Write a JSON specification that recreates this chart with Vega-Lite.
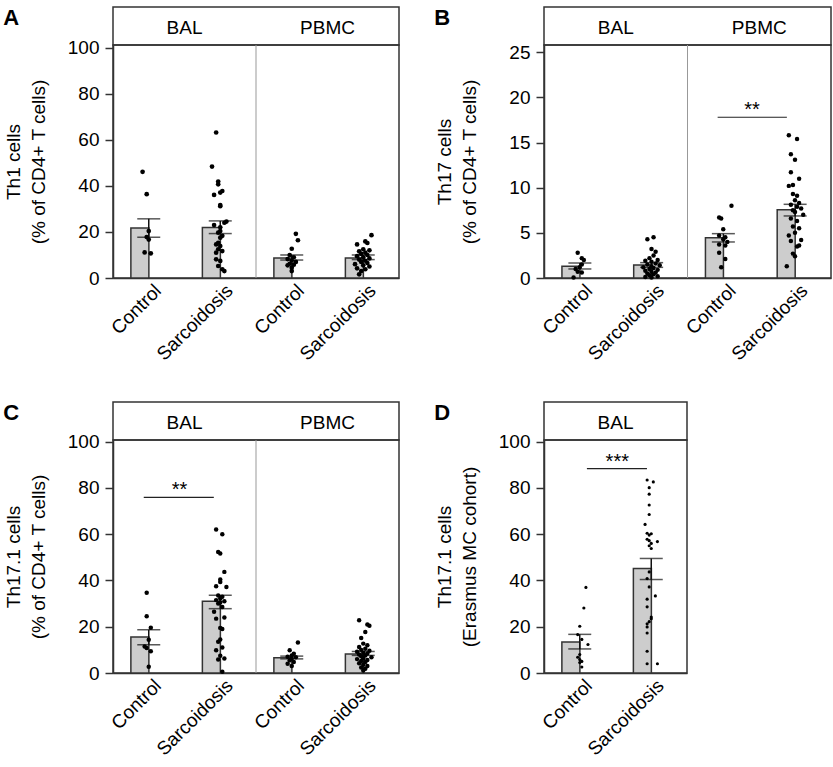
{
  "$schema": "https://vega.github.io/schema/vega-lite/v6.json",
  "padding": {"left": 3, "top": 6, "right": 0, "bottom": 0},
  "config": {
    "font": "Liberation Sans",
    "view": {"stroke": "#333", "strokeWidth": 1.5},
    "axis": {"domainColor": "#333", "domainWidth": 1.5, "tickColor": "#333", "tickWidth": 1.5, "labelFontSize": 19, "labelColor": "#000", "titleFontSize": 19, "titleFontWeight": "normal", "titleColor": "#000", "grid": false, "labelFont": "Liberation Sans", "titleFont": "Liberation Sans"},
    "axisX": {"ticks": false, "tickSize": 0, "labelAngle": -45, "labelAlign": "right", "labelBaseline": "top", "labelPadding": 3, "labelOffset": 3},
    "axisY": {"labelPadding": 6, "minExtent": 49, "maxExtent": 49, "titlePadding": 16, "titleLineHeight": 25},
    "title": {"font": "Liberation Sans", "fontSize": 22, "fontWeight": "bold", "anchor": "start", "frame": "bounds", "offset": -24, "color": "#000"}
  },
  "datasets": {
    "bars": [
      {"p": "A", "t": "BAL", "g": "Control", "m": 21.7, "lo": 17.7, "hi": 25.7},
      {"p": "A", "t": "BAL", "g": "Sarcoidosis", "m": 21.9, "lo": 19.3, "hi": 24.8},
      {"p": "A", "t": "PBMC", "g": "Control", "m": 8.7, "lo": 7.8, "hi": 10.0},
      {"p": "A", "t": "PBMC", "g": "Sarcoidosis", "m": 8.7, "lo": 8.0, "hi": 10.0},
      {"p": "B", "t": "BAL", "g": "Control", "m": 1.3, "lo": 1.0, "hi": 1.66},
      {"p": "B", "t": "BAL", "g": "Sarcoidosis", "m": 1.45, "lo": 1.18, "hi": 1.7},
      {"p": "B", "t": "PBMC", "g": "Control", "m": 4.45, "lo": 3.99, "hi": 4.91},
      {"p": "B", "t": "PBMC", "g": "Sarcoidosis", "m": 7.55, "lo": 6.87, "hi": 8.16},
      {"p": "C", "t": "BAL", "g": "Control", "m": 15.6, "lo": 12.2, "hi": 18.7},
      {"p": "C", "t": "BAL", "g": "Sarcoidosis", "m": 31.0, "lo": 27.8, "hi": 33.6},
      {"p": "C", "t": "PBMC", "g": "Control", "m": 6.6, "lo": 6.1, "hi": 7.3},
      {"p": "C", "t": "PBMC", "g": "Sarcoidosis", "m": 8.2, "lo": 7.6, "hi": 9.3},
      {"p": "D", "t": "BAL", "g": "Control", "m": 13.4, "lo": 10.4, "hi": 16.7},
      {"p": "D", "t": "BAL", "g": "Sarcoidosis", "m": 45.2, "lo": 40.4, "hi": 49.5}
    ],
    "pts": [
      {"p":"A","t":"BAL","g":"Control","v":46.1,"l":2},{"p":"A","t":"BAL","g":"Control","v":36.4,"l":4},{"p":"A","t":"BAL","g":"Control","v":20.4,"l":5},{"p":"A","t":"BAL","g":"Control","v":17.8,"l":4},{"p":"A","t":"BAL","g":"Control","v":16.7,"l":5},{"p":"A","t":"BAL","g":"Control","v":11.1,"l":3},{"p":"A","t":"BAL","g":"Control","v":10.7,"l":6},
      {"p":"A","t":"BAL","g":"Sarcoidosis","v":63.2,"l":3},{"p":"A","t":"BAL","g":"Sarcoidosis","v":48.4,"l":1},{"p":"A","t":"BAL","g":"Sarcoidosis","v":41.9,"l":4},{"p":"A","t":"BAL","g":"Sarcoidosis","v":40.7,"l":4},{"p":"A","t":"BAL","g":"Sarcoidosis","v":37.8,"l":6},{"p":"A","t":"BAL","g":"Sarcoidosis","v":37.1,"l":5},{"p":"A","t":"BAL","g":"Sarcoidosis","v":36.1,"l":2},{"p":"A","t":"BAL","g":"Sarcoidosis","v":31.7,"l":5},{"p":"A","t":"BAL","g":"Sarcoidosis","v":31.2,"l":5},{"p":"A","t":"BAL","g":"Sarcoidosis","v":24.5,"l":8},{"p":"A","t":"BAL","g":"Sarcoidosis","v":24.0,"l":7},{"p":"A","t":"BAL","g":"Sarcoidosis","v":23.0,"l":2},{"p":"A","t":"BAL","g":"Sarcoidosis","v":22.0,"l":5},{"p":"A","t":"BAL","g":"Sarcoidosis","v":20.4,"l":5},{"p":"A","t":"BAL","g":"Sarcoidosis","v":19.7,"l":4},{"p":"A","t":"BAL","g":"Sarcoidosis","v":18.3,"l":6},{"p":"A","t":"BAL","g":"Sarcoidosis","v":17.5,"l":5},{"p":"A","t":"BAL","g":"Sarcoidosis","v":15.3,"l":4},{"p":"A","t":"BAL","g":"Sarcoidosis","v":14.6,"l":3},{"p":"A","t":"BAL","g":"Sarcoidosis","v":13.9,"l":5},{"p":"A","t":"BAL","g":"Sarcoidosis","v":12.5,"l":4},{"p":"A","t":"BAL","g":"Sarcoidosis","v":11.7,"l":6},{"p":"A","t":"BAL","g":"Sarcoidosis","v":11.0,"l":3},{"p":"A","t":"BAL","g":"Sarcoidosis","v":8.1,"l":3},{"p":"A","t":"BAL","g":"Sarcoidosis","v":7.4,"l":5},{"p":"A","t":"BAL","g":"Sarcoidosis","v":5.2,"l":4},{"p":"A","t":"BAL","g":"Sarcoidosis","v":3.8,"l":6},{"p":"A","t":"BAL","g":"Sarcoidosis","v":3.0,"l":7},
      {"p":"A","t":"PBMC","g":"Control","v":19.2,"l":7},{"p":"A","t":"PBMC","g":"Control","v":16.4,"l":8},{"p":"A","t":"PBMC","g":"Control","v":12.7,"l":5},{"p":"A","t":"PBMC","g":"Control","v":10.0,"l":4},{"p":"A","t":"PBMC","g":"Control","v":9.0,"l":6},{"p":"A","t":"PBMC","g":"Control","v":8.2,"l":3},{"p":"A","t":"PBMC","g":"Control","v":7.6,"l":5},{"p":"A","t":"PBMC","g":"Control","v":7.0,"l":7},{"p":"A","t":"PBMC","g":"Control","v":6.2,"l":4},{"p":"A","t":"PBMC","g":"Control","v":5.8,"l":6},{"p":"A","t":"PBMC","g":"Control","v":5.5,"l":3},{"p":"A","t":"PBMC","g":"Control","v":4.5,"l":5},{"p":"A","t":"PBMC","g":"Control","v":3.0,"l":5},
      {"p":"A","t":"PBMC","g":"Sarcoidosis","v":18.6,"l":9},{"p":"A","t":"PBMC","g":"Sarcoidosis","v":15.9,"l":6},{"p":"A","t":"PBMC","g":"Sarcoidosis","v":15.2,"l":7},{"p":"A","t":"PBMC","g":"Sarcoidosis","v":14.6,"l":2},{"p":"A","t":"PBMC","g":"Sarcoidosis","v":12.5,"l":5},{"p":"A","t":"PBMC","g":"Sarcoidosis","v":12.0,"l":8},{"p":"A","t":"PBMC","g":"Sarcoidosis","v":11.6,"l":3},{"p":"A","t":"PBMC","g":"Sarcoidosis","v":11.0,"l":6},{"p":"A","t":"PBMC","g":"Sarcoidosis","v":10.5,"l":4},{"p":"A","t":"PBMC","g":"Sarcoidosis","v":10.0,"l":7},{"p":"A","t":"PBMC","g":"Sarcoidosis","v":9.5,"l":2},{"p":"A","t":"PBMC","g":"Sarcoidosis","v":9.0,"l":5},{"p":"A","t":"PBMC","g":"Sarcoidosis","v":8.5,"l":8},{"p":"A","t":"PBMC","g":"Sarcoidosis","v":8.0,"l":3},{"p":"A","t":"PBMC","g":"Sarcoidosis","v":7.5,"l":6},{"p":"A","t":"PBMC","g":"Sarcoidosis","v":7.0,"l":4},{"p":"A","t":"PBMC","g":"Sarcoidosis","v":6.5,"l":7},{"p":"A","t":"PBMC","g":"Sarcoidosis","v":6.0,"l":1},{"p":"A","t":"PBMC","g":"Sarcoidosis","v":5.5,"l":5},{"p":"A","t":"PBMC","g":"Sarcoidosis","v":5.0,"l":8},{"p":"A","t":"PBMC","g":"Sarcoidosis","v":4.2,"l":2},{"p":"A","t":"PBMC","g":"Sarcoidosis","v":3.8,"l":6},{"p":"A","t":"PBMC","g":"Sarcoidosis","v":3.0,"l":4},{"p":"A","t":"PBMC","g":"Sarcoidosis","v":1.6,"l":3},
      {"p":"B","t":"BAL","g":"Control","v":2.8,"l":4},{"p":"B","t":"BAL","g":"Control","v":2.2,"l":6},{"p":"B","t":"BAL","g":"Control","v":2.0,"l":7},{"p":"B","t":"BAL","g":"Control","v":1.5,"l":6},{"p":"B","t":"BAL","g":"Control","v":1.2,"l":5},{"p":"B","t":"BAL","g":"Control","v":1.0,"l":3},{"p":"B","t":"BAL","g":"Control","v":0.7,"l":4},{"p":"B","t":"BAL","g":"Control","v":0.6,"l":6},{"p":"B","t":"BAL","g":"Control","v":0.05,"l":2},
      {"p":"B","t":"BAL","g":"Sarcoidosis","v":4.5,"l":6},{"p":"B","t":"BAL","g":"Sarcoidosis","v":4.3,"l":3},{"p":"B","t":"BAL","g":"Sarcoidosis","v":3.2,"l":5},{"p":"B","t":"BAL","g":"Sarcoidosis","v":2.9,"l":7},{"p":"B","t":"BAL","g":"Sarcoidosis","v":2.5,"l":6},{"p":"B","t":"BAL","g":"Sarcoidosis","v":2.2,"l":4},{"p":"B","t":"BAL","g":"Sarcoidosis","v":2.0,"l":8},{"p":"B","t":"BAL","g":"Sarcoidosis","v":1.9,"l":2},{"p":"B","t":"BAL","g":"Sarcoidosis","v":1.8,"l":5},{"p":"B","t":"BAL","g":"Sarcoidosis","v":1.6,"l":7},{"p":"B","t":"BAL","g":"Sarcoidosis","v":1.5,"l":3},{"p":"B","t":"BAL","g":"Sarcoidosis","v":1.4,"l":9},{"p":"B","t":"BAL","g":"Sarcoidosis","v":1.3,"l":5},{"p":"B","t":"BAL","g":"Sarcoidosis","v":1.2,"l":1},{"p":"B","t":"BAL","g":"Sarcoidosis","v":1.1,"l":6},{"p":"B","t":"BAL","g":"Sarcoidosis","v":1.0,"l":4},{"p":"B","t":"BAL","g":"Sarcoidosis","v":0.9,"l":8},{"p":"B","t":"BAL","g":"Sarcoidosis","v":0.8,"l":2},{"p":"B","t":"BAL","g":"Sarcoidosis","v":0.7,"l":5},{"p":"B","t":"BAL","g":"Sarcoidosis","v":0.6,"l":7},{"p":"B","t":"BAL","g":"Sarcoidosis","v":0.5,"l":3},{"p":"B","t":"BAL","g":"Sarcoidosis","v":0.4,"l":6},{"p":"B","t":"BAL","g":"Sarcoidosis","v":0.3,"l":4},{"p":"B","t":"BAL","g":"Sarcoidosis","v":0.2,"l":8},{"p":"B","t":"BAL","g":"Sarcoidosis","v":0.1,"l":2},{"p":"B","t":"BAL","g":"Sarcoidosis","v":0.05,"l":5},
      {"p":"B","t":"PBMC","g":"Control","v":8.0,"l":9},{"p":"B","t":"PBMC","g":"Control","v":6.7,"l":3},{"p":"B","t":"PBMC","g":"Control","v":6.6,"l":4},{"p":"B","t":"PBMC","g":"Control","v":5.4,"l":5},{"p":"B","t":"PBMC","g":"Control","v":4.7,"l":3},{"p":"B","t":"PBMC","g":"Control","v":4.5,"l":6},{"p":"B","t":"PBMC","g":"Control","v":4.3,"l":5},{"p":"B","t":"PBMC","g":"Control","v":4.0,"l":7},{"p":"B","t":"PBMC","g":"Control","v":3.7,"l":3},{"p":"B","t":"PBMC","g":"Control","v":3.6,"l":6},{"p":"B","t":"PBMC","g":"Control","v":2.8,"l":3},{"p":"B","t":"PBMC","g":"Control","v":2.1,"l":6},{"p":"B","t":"PBMC","g":"Control","v":1.2,"l":4},
      {"p":"B","t":"PBMC","g":"Sarcoidosis","v":15.8,"l":2},{"p":"B","t":"PBMC","g":"Sarcoidosis","v":15.4,"l":6},{"p":"B","t":"PBMC","g":"Sarcoidosis","v":13.7,"l":3},{"p":"B","t":"PBMC","g":"Sarcoidosis","v":13.1,"l":5},{"p":"B","t":"PBMC","g":"Sarcoidosis","v":11.7,"l":3},{"p":"B","t":"PBMC","g":"Sarcoidosis","v":11.0,"l":7},{"p":"B","t":"PBMC","g":"Sarcoidosis","v":10.3,"l":4},{"p":"B","t":"PBMC","g":"Sarcoidosis","v":10.2,"l":2},{"p":"B","t":"PBMC","g":"Sarcoidosis","v":9.3,"l":4},{"p":"B","t":"PBMC","g":"Sarcoidosis","v":9.1,"l":6},{"p":"B","t":"PBMC","g":"Sarcoidosis","v":8.6,"l":5},{"p":"B","t":"PBMC","g":"Sarcoidosis","v":8.3,"l":7},{"p":"B","t":"PBMC","g":"Sarcoidosis","v":8.1,"l":3},{"p":"B","t":"PBMC","g":"Sarcoidosis","v":7.9,"l":6},{"p":"B","t":"PBMC","g":"Sarcoidosis","v":7.7,"l":8},{"p":"B","t":"PBMC","g":"Sarcoidosis","v":7.5,"l":4},{"p":"B","t":"PBMC","g":"Sarcoidosis","v":7.3,"l":5},{"p":"B","t":"PBMC","g":"Sarcoidosis","v":7.0,"l":9},{"p":"B","t":"PBMC","g":"Sarcoidosis","v":6.6,"l":3},{"p":"B","t":"PBMC","g":"Sarcoidosis","v":6.3,"l":6},{"p":"B","t":"PBMC","g":"Sarcoidosis","v":5.7,"l":4},{"p":"B","t":"PBMC","g":"Sarcoidosis","v":5.5,"l":7},{"p":"B","t":"PBMC","g":"Sarcoidosis","v":5.0,"l":5},{"p":"B","t":"PBMC","g":"Sarcoidosis","v":4.7,"l":2},{"p":"B","t":"PBMC","g":"Sarcoidosis","v":4.2,"l":8},{"p":"B","t":"PBMC","g":"Sarcoidosis","v":4.1,"l":3},{"p":"B","t":"PBMC","g":"Sarcoidosis","v":3.6,"l":7},{"p":"B","t":"PBMC","g":"Sarcoidosis","v":3.5,"l":6},{"p":"B","t":"PBMC","g":"Sarcoidosis","v":2.7,"l":4},{"p":"B","t":"PBMC","g":"Sarcoidosis","v":2.4,"l":5},{"p":"B","t":"PBMC","g":"Sarcoidosis","v":1.3,"l":1},
      {"p":"C","t":"BAL","g":"Control","v":34.7,"l":4},{"p":"C","t":"BAL","g":"Control","v":24.5,"l":4},{"p":"C","t":"BAL","g":"Control","v":19.6,"l":6},{"p":"C","t":"BAL","g":"Control","v":14.4,"l":5},{"p":"C","t":"BAL","g":"Control","v":11.5,"l":3},{"p":"C","t":"BAL","g":"Control","v":10.8,"l":4},{"p":"C","t":"BAL","g":"Control","v":9.4,"l":6},{"p":"C","t":"BAL","g":"Control","v":2.7,"l":5},
      {"p":"C","t":"BAL","g":"Sarcoidosis","v":62.0,"l":3},{"p":"C","t":"BAL","g":"Sarcoidosis","v":60.0,"l":6},{"p":"C","t":"BAL","g":"Sarcoidosis","v":52.3,"l":4},{"p":"C","t":"BAL","g":"Sarcoidosis","v":51.6,"l":5},{"p":"C","t":"BAL","g":"Sarcoidosis","v":43.7,"l":7},{"p":"C","t":"BAL","g":"Sarcoidosis","v":40.4,"l":5},{"p":"C","t":"BAL","g":"Sarcoidosis","v":39.3,"l":5},{"p":"C","t":"BAL","g":"Sarcoidosis","v":37.5,"l":3},{"p":"C","t":"BAL","g":"Sarcoidosis","v":37.2,"l":8},{"p":"C","t":"BAL","g":"Sarcoidosis","v":33.5,"l":4},{"p":"C","t":"BAL","g":"Sarcoidosis","v":33.0,"l":6},{"p":"C","t":"BAL","g":"Sarcoidosis","v":32.2,"l":5},{"p":"C","t":"BAL","g":"Sarcoidosis","v":31.5,"l":3},{"p":"C","t":"BAL","g":"Sarcoidosis","v":31.0,"l":7},{"p":"C","t":"BAL","g":"Sarcoidosis","v":30.5,"l":5},{"p":"C","t":"BAL","g":"Sarcoidosis","v":30.0,"l":4},{"p":"C","t":"BAL","g":"Sarcoidosis","v":28.5,"l":6},{"p":"C","t":"BAL","g":"Sarcoidosis","v":26.5,"l":2},{"p":"C","t":"BAL","g":"Sarcoidosis","v":24.0,"l":7},{"p":"C","t":"BAL","g":"Sarcoidosis","v":23.5,"l":3},{"p":"C","t":"BAL","g":"Sarcoidosis","v":19.5,"l":5},{"p":"C","t":"BAL","g":"Sarcoidosis","v":19.0,"l":6},{"p":"C","t":"BAL","g":"Sarcoidosis","v":14.5,"l":5},{"p":"C","t":"BAL","g":"Sarcoidosis","v":13.5,"l":4},{"p":"C","t":"BAL","g":"Sarcoidosis","v":11.0,"l":6},{"p":"C","t":"BAL","g":"Sarcoidosis","v":9.8,"l":3},{"p":"C","t":"BAL","g":"Sarcoidosis","v":7.5,"l":5},{"p":"C","t":"BAL","g":"Sarcoidosis","v":6.3,"l":7},{"p":"C","t":"BAL","g":"Sarcoidosis","v":5.8,"l":4},{"p":"C","t":"BAL","g":"Sarcoidosis","v":0.5,"l":6},
      {"p":"C","t":"PBMC","g":"Control","v":13.2,"l":8},{"p":"C","t":"PBMC","g":"Control","v":9.8,"l":4},{"p":"C","t":"PBMC","g":"Control","v":8.3,"l":6},{"p":"C","t":"PBMC","g":"Control","v":7.6,"l":5},{"p":"C","t":"PBMC","g":"Control","v":7.0,"l":3},{"p":"C","t":"PBMC","g":"Control","v":6.8,"l":7},{"p":"C","t":"PBMC","g":"Control","v":6.2,"l":5},{"p":"C","t":"PBMC","g":"Control","v":5.5,"l":4},{"p":"C","t":"PBMC","g":"Control","v":4.8,"l":6},{"p":"C","t":"PBMC","g":"Control","v":4.0,"l":3},{"p":"C","t":"PBMC","g":"Control","v":3.0,"l":5},
      {"p":"C","t":"PBMC","g":"Sarcoidosis","v":22.8,"l":3},{"p":"C","t":"PBMC","g":"Sarcoidosis","v":21.0,"l":7},{"p":"C","t":"PBMC","g":"Sarcoidosis","v":20.4,"l":8},{"p":"C","t":"PBMC","g":"Sarcoidosis","v":17.7,"l":6},{"p":"C","t":"PBMC","g":"Sarcoidosis","v":15.1,"l":4},{"p":"C","t":"PBMC","g":"Sarcoidosis","v":12.7,"l":5},{"p":"C","t":"PBMC","g":"Sarcoidosis","v":12.0,"l":7},{"p":"C","t":"PBMC","g":"Sarcoidosis","v":11.2,"l":3},{"p":"C","t":"PBMC","g":"Sarcoidosis","v":10.5,"l":6},{"p":"C","t":"PBMC","g":"Sarcoidosis","v":10.0,"l":4},{"p":"C","t":"PBMC","g":"Sarcoidosis","v":9.6,"l":8},{"p":"C","t":"PBMC","g":"Sarcoidosis","v":9.2,"l":2},{"p":"C","t":"PBMC","g":"Sarcoidosis","v":8.8,"l":5},{"p":"C","t":"PBMC","g":"Sarcoidosis","v":8.4,"l":7},{"p":"C","t":"PBMC","g":"Sarcoidosis","v":8.0,"l":3},{"p":"C","t":"PBMC","g":"Sarcoidosis","v":7.6,"l":6},{"p":"C","t":"PBMC","g":"Sarcoidosis","v":7.2,"l":4},{"p":"C","t":"PBMC","g":"Sarcoidosis","v":6.8,"l":9},{"p":"C","t":"PBMC","g":"Sarcoidosis","v":6.4,"l":5},{"p":"C","t":"PBMC","g":"Sarcoidosis","v":6.0,"l":2},{"p":"C","t":"PBMC","g":"Sarcoidosis","v":5.6,"l":7},{"p":"C","t":"PBMC","g":"Sarcoidosis","v":5.2,"l":4},{"p":"C","t":"PBMC","g":"Sarcoidosis","v":4.8,"l":6},{"p":"C","t":"PBMC","g":"Sarcoidosis","v":4.2,"l":3},{"p":"C","t":"PBMC","g":"Sarcoidosis","v":3.6,"l":5},{"p":"C","t":"PBMC","g":"Sarcoidosis","v":3.0,"l":7},{"p":"C","t":"PBMC","g":"Sarcoidosis","v":2.4,"l":4},{"p":"C","t":"PBMC","g":"Sarcoidosis","v":1.8,"l":6},{"p":"C","t":"PBMC","g":"Sarcoidosis","v":1.1,"l":5},
      {"p":"D","t":"BAL","g":"Control","v":37.0,"l":8},{"p":"D","t":"BAL","g":"Control","v":28.1,"l":7},{"p":"D","t":"BAL","g":"Control","v":20.2,"l":5},{"p":"D","t":"BAL","g":"Control","v":16.6,"l":4},{"p":"D","t":"BAL","g":"Control","v":14.5,"l":6},{"p":"D","t":"BAL","g":"Control","v":12.3,"l":9},{"p":"D","t":"BAL","g":"Control","v":8.0,"l":5},{"p":"D","t":"BAL","g":"Control","v":6.8,"l":4},{"p":"D","t":"BAL","g":"Control","v":5.8,"l":5},{"p":"D","t":"BAL","g":"Control","v":5.0,"l":6},{"p":"D","t":"BAL","g":"Control","v":4.5,"l":5},{"p":"D","t":"BAL","g":"Control","v":2.6,"l":6},
      {"p":"D","t":"BAL","g":"Sarcoidosis","v":83.4,"l":3},{"p":"D","t":"BAL","g":"Sarcoidosis","v":82.6,"l":6},{"p":"D","t":"BAL","g":"Sarcoidosis","v":80.1,"l":4},{"p":"D","t":"BAL","g":"Sarcoidosis","v":77.3,"l":4},{"p":"D","t":"BAL","g":"Sarcoidosis","v":72.6,"l":4},{"p":"D","t":"BAL","g":"Sarcoidosis","v":68.5,"l":4},{"p":"D","t":"BAL","g":"Sarcoidosis","v":64.2,"l":2},{"p":"D","t":"BAL","g":"Sarcoidosis","v":60.4,"l":3},{"p":"D","t":"BAL","g":"Sarcoidosis","v":60.2,"l":5},{"p":"D","t":"BAL","g":"Sarcoidosis","v":59.6,"l":4},{"p":"D","t":"BAL","g":"Sarcoidosis","v":57.8,"l":3},{"p":"D","t":"BAL","g":"Sarcoidosis","v":57.2,"l":4},{"p":"D","t":"BAL","g":"Sarcoidosis","v":56.8,"l":8},{"p":"D","t":"BAL","g":"Sarcoidosis","v":56.0,"l":5},{"p":"D","t":"BAL","g":"Sarcoidosis","v":55.0,"l":4},{"p":"D","t":"BAL","g":"Sarcoidosis","v":53.8,"l":5},{"p":"D","t":"BAL","g":"Sarcoidosis","v":43.7,"l":4},{"p":"D","t":"BAL","g":"Sarcoidosis","v":40.8,"l":3},{"p":"D","t":"BAL","g":"Sarcoidosis","v":37.2,"l":4},{"p":"D","t":"BAL","g":"Sarcoidosis","v":33.3,"l":7},{"p":"D","t":"BAL","g":"Sarcoidosis","v":31.9,"l":3},{"p":"D","t":"BAL","g":"Sarcoidosis","v":28.6,"l":3},{"p":"D","t":"BAL","g":"Sarcoidosis","v":24.2,"l":5},{"p":"D","t":"BAL","g":"Sarcoidosis","v":23.5,"l":5},{"p":"D","t":"BAL","g":"Sarcoidosis","v":22.2,"l":4},{"p":"D","t":"BAL","g":"Sarcoidosis","v":21.3,"l":3},{"p":"D","t":"BAL","g":"Sarcoidosis","v":19.9,"l":3},{"p":"D","t":"BAL","g":"Sarcoidosis","v":17.3,"l":3},{"p":"D","t":"BAL","g":"Sarcoidosis","v":9.4,"l":3},{"p":"D","t":"BAL","g":"Sarcoidosis","v":4.0,"l":3},{"p":"D","t":"BAL","g":"Sarcoidosis","v":4.0,"l":8}
    ]
  },
  "spacing": 36,
  "resolve": {"scale": {"x": "independent", "y": "independent"}},
  "vconcat": [
    {
      "spacing": 34,
      "resolve": {"scale": {"x": "independent", "y": "independent"}},
      "hconcat": [
        {
          "title": {"text": "A"},
          "spacing": 0,
          "bounds": "flush",
          "resolve": {"scale": {"x": "independent", "y": "independent"}},
          "vconcat": [
            {
              "width": 286, "height": 38,
              "data": {"values": [{"t": "BAL"}, {"t": "PBMC"}]},
              "mark": {"type": "text", "fontSize": 19, "dy": 2},
              "encoding": {"x": {"field": "t", "type": "nominal", "axis": null, "scale": {"paddingInner": 0, "paddingOuter": 0}}, "text": {"field": "t"}}
            },
            {
              "width": 286, "height": 233,
              "layer": [
                {
                  "data": {"name": "bars"},
                  "transform": [{"filter": "datum.p === 'A'"}, {"calculate": "datum.t + '|' + datum.g", "as": "k"}],
                  "mark": {"type": "bar", "width": {"band": 0.5}, "fill": "#cdcdcd", "stroke": "#333", "strokeWidth": 1.5},
                  "encoding": {
                    "x": {"field": "k", "type": "nominal", "title": null, "scale": {"domain": ["BAL|Control", "BAL|Sarcoidosis", "PBMC|Control", "PBMC|Sarcoidosis"], "paddingInner": 0, "paddingOuter": 0}, "axis": {"labelExpr": "split(datum.label, '|')[1]"}},
                    "y": {"field": "m", "type": "quantitative", "title": ["Th1 cells", "(%  of CD4+ T cells)"], "scale": {"domain": [0, 101.2], "nice": false}, "axis": {"values": [0, 10, 20, 30, 40, 50, 60, 70, 80, 90, 100], "format": ".0f", "labelExpr": "datum.value % 20 === 0 ? datum.label : ''", "tickSize": {"condition": {"test": "datum.value % 20 !== 0", "value": 4}, "value": 8}}}
                  }
                },
                {
                  "data": {"name": "bars"},
                  "transform": [{"filter": "datum.p === 'A'"}, {"calculate": "datum.t + '|' + datum.g", "as": "k"}],
                  "mark": {"type": "rule", "color": "#111", "strokeWidth": 1.5},
                  "encoding": {"x": {"field": "k", "type": "nominal"}, "y": {"field": "lo", "type": "quantitative"}, "y2": {"field": "hi"}}
                },
                {
                  "data": {"name": "bars"},
                  "transform": [{"filter": "datum.p === 'A'"}, {"calculate": "datum.t + '|' + datum.g", "as": "k"}],
                  "mark": {"type": "tick", "orient": "horizontal", "size": 23, "thickness": 1.5, "color": "#111"},
                  "encoding": {"x": {"field": "k", "type": "nominal"}, "y": {"field": "lo", "type": "quantitative"}}
                },
                {
                  "data": {"name": "bars"},
                  "transform": [{"filter": "datum.p === 'A'"}, {"calculate": "datum.t + '|' + datum.g", "as": "k"}],
                  "mark": {"type": "tick", "orient": "horizontal", "size": 23, "thickness": 1.5, "color": "#111"},
                  "encoding": {"x": {"field": "k", "type": "nominal"}, "y": {"field": "hi", "type": "quantitative"}}
                },
                {
                  "data": {"name": "pts"},
                  "transform": [{"filter": "datum.p === 'A'"}, {"calculate": "datum.t + '|' + datum.g", "as": "k"}],
                  "mark": {"type": "circle", "size": 22, "color": "#000", "opacity": 1},
                  "encoding": {"x": {"field": "k", "type": "nominal"}, "xOffset": {"field": "l", "type": "ordinal", "scale": {"domain": [1, 2, 3, 4, 5, 6, 7, 8, 9], "range": [26.5, 45]}}, "y": {"field": "v", "type": "quantitative"}}
                },
                {
                  "data": {"values": [{}]},
                  "mark": {"type": "rule", "color": "#999", "strokeWidth": 1},
                  "encoding": {"x": {"datum": "PBMC|Control", "bandPosition": 0}}
                }
              ]
            }
          ]
        },
        {
          "title": {"text": "B"},
          "spacing": 0,
          "bounds": "flush",
          "resolve": {"scale": {"x": "independent", "y": "independent"}},
          "vconcat": [
            {
              "width": 287, "height": 38,
              "data": {"values": [{"t": "BAL"}, {"t": "PBMC"}]},
              "mark": {"type": "text", "fontSize": 19, "dy": 2},
              "encoding": {"x": {"field": "t", "type": "nominal", "axis": null, "scale": {"paddingInner": 0, "paddingOuter": 0}}, "text": {"field": "t"}}
            },
            {
              "width": 287, "height": 233,
              "layer": [
                {
                  "data": {"name": "bars"},
                  "transform": [{"filter": "datum.p === 'B'"}, {"calculate": "datum.t + '|' + datum.g", "as": "k"}],
                  "mark": {"type": "bar", "width": {"band": 0.5}, "fill": "#cdcdcd", "stroke": "#333", "strokeWidth": 1.5},
                  "encoding": {
                    "x": {"field": "k", "type": "nominal", "title": null, "scale": {"domain": ["BAL|Control", "BAL|Sarcoidosis", "PBMC|Control", "PBMC|Sarcoidosis"], "paddingInner": 0, "paddingOuter": 0}, "axis": {"labelExpr": "split(datum.label, '|')[1]"}},
                    "y": {"field": "m", "type": "quantitative", "title": ["Th17 cells", "(%  of CD4+ T cells)"], "scale": {"domain": [0, 25.8], "nice": false}, "axis": {"values": [0, 2.5, 5, 7.5, 10, 12.5, 15, 17.5, 20, 22.5, 25], "format": ".0f", "labelExpr": "datum.value % 5 === 0 ? datum.label : ''", "tickSize": {"condition": {"test": "datum.value % 5 !== 0", "value": 4}, "value": 8}}}
                  }
                },
                {
                  "data": {"name": "bars"},
                  "transform": [{"filter": "datum.p === 'B'"}, {"calculate": "datum.t + '|' + datum.g", "as": "k"}],
                  "mark": {"type": "rule", "color": "#111", "strokeWidth": 1.5},
                  "encoding": {"x": {"field": "k", "type": "nominal"}, "y": {"field": "lo", "type": "quantitative"}, "y2": {"field": "hi"}}
                },
                {
                  "data": {"name": "bars"},
                  "transform": [{"filter": "datum.p === 'B'"}, {"calculate": "datum.t + '|' + datum.g", "as": "k"}],
                  "mark": {"type": "tick", "orient": "horizontal", "size": 23, "thickness": 1.5, "color": "#111"},
                  "encoding": {"x": {"field": "k", "type": "nominal"}, "y": {"field": "lo", "type": "quantitative"}}
                },
                {
                  "data": {"name": "bars"},
                  "transform": [{"filter": "datum.p === 'B'"}, {"calculate": "datum.t + '|' + datum.g", "as": "k"}],
                  "mark": {"type": "tick", "orient": "horizontal", "size": 23, "thickness": 1.5, "color": "#111"},
                  "encoding": {"x": {"field": "k", "type": "nominal"}, "y": {"field": "hi", "type": "quantitative"}}
                },
                {
                  "data": {"name": "pts"},
                  "transform": [{"filter": "datum.p === 'B'"}, {"calculate": "datum.t + '|' + datum.g", "as": "k"}],
                  "mark": {"type": "circle", "size": 20, "color": "#000", "opacity": 1},
                  "encoding": {"x": {"field": "k", "type": "nominal"}, "xOffset": {"field": "l", "type": "ordinal", "scale": {"domain": [1, 2, 3, 4, 5, 6, 7, 8, 9], "range": [26.5, 45]}}, "y": {"field": "v", "type": "quantitative"}}
                },
                {
                  "data": {"values": [{}]},
                  "mark": {"type": "rule", "color": "#999", "strokeWidth": 1},
                  "encoding": {"x": {"datum": "PBMC|Control", "bandPosition": 0}}
                },
                {
                  "data": {"values": [{}]},
                  "mark": {"type": "rule", "color": "#222", "strokeWidth": 1.2},
                  "encoding": {"x": {"datum": "PBMC|Control", "bandPosition": 0.42}, "x2": {"datum": "PBMC|Sarcoidosis", "bandPosition": 0.385}, "y": {"datum": 17.8}}
                },
                {
                  "data": {"values": [{}]},
                  "mark": {"type": "text", "text": "**", "fontSize": 20, "baseline": "alphabetic", "dy": -1},
                  "encoding": {"x": {"datum": "PBMC|Control", "bandPosition": 0.9}, "y": {"datum": 17.8}}
                }
              ]
            }
          ]
        }
      ]
    },
    {
      "spacing": 34,
      "resolve": {"scale": {"x": "independent", "y": "independent"}},
      "hconcat": [
        {
          "title": {"text": "C"},
          "spacing": 0,
          "bounds": "flush",
          "resolve": {"scale": {"x": "independent", "y": "independent"}},
          "vconcat": [
            {
              "width": 286, "height": 38,
              "data": {"values": [{"t": "BAL"}, {"t": "PBMC"}]},
              "mark": {"type": "text", "fontSize": 19, "dy": 2},
              "encoding": {"x": {"field": "t", "type": "nominal", "axis": null, "scale": {"paddingInner": 0, "paddingOuter": 0}}, "text": {"field": "t"}}
            },
            {
              "width": 286, "height": 233,
              "layer": [
                {
                  "data": {"name": "bars"},
                  "transform": [{"filter": "datum.p === 'C'"}, {"calculate": "datum.t + '|' + datum.g", "as": "k"}],
                  "mark": {"type": "bar", "width": {"band": 0.5}, "fill": "#cdcdcd", "stroke": "#333", "strokeWidth": 1.5},
                  "encoding": {
                    "x": {"field": "k", "type": "nominal", "title": null, "scale": {"domain": ["BAL|Control", "BAL|Sarcoidosis", "PBMC|Control", "PBMC|Sarcoidosis"], "paddingInner": 0, "paddingOuter": 0}, "axis": {"labelExpr": "split(datum.label, '|')[1]"}},
                    "y": {"field": "m", "type": "quantitative", "title": ["Th17.1 cells", "(%  of CD4+ T cells)"], "scale": {"domain": [0, 100.7], "nice": false}, "axis": {"values": [0, 10, 20, 30, 40, 50, 60, 70, 80, 90, 100], "format": ".0f", "labelExpr": "datum.value % 20 === 0 ? datum.label : ''", "tickSize": {"condition": {"test": "datum.value % 20 !== 0", "value": 4}, "value": 8}}}
                  }
                },
                {
                  "data": {"name": "bars"},
                  "transform": [{"filter": "datum.p === 'C'"}, {"calculate": "datum.t + '|' + datum.g", "as": "k"}],
                  "mark": {"type": "rule", "color": "#111", "strokeWidth": 1.5},
                  "encoding": {"x": {"field": "k", "type": "nominal"}, "y": {"field": "lo", "type": "quantitative"}, "y2": {"field": "hi"}}
                },
                {
                  "data": {"name": "bars"},
                  "transform": [{"filter": "datum.p === 'C'"}, {"calculate": "datum.t + '|' + datum.g", "as": "k"}],
                  "mark": {"type": "tick", "orient": "horizontal", "size": 23, "thickness": 1.5, "color": "#111"},
                  "encoding": {"x": {"field": "k", "type": "nominal"}, "y": {"field": "lo", "type": "quantitative"}}
                },
                {
                  "data": {"name": "bars"},
                  "transform": [{"filter": "datum.p === 'C'"}, {"calculate": "datum.t + '|' + datum.g", "as": "k"}],
                  "mark": {"type": "tick", "orient": "horizontal", "size": 23, "thickness": 1.5, "color": "#111"},
                  "encoding": {"x": {"field": "k", "type": "nominal"}, "y": {"field": "hi", "type": "quantitative"}}
                },
                {
                  "data": {"name": "pts"},
                  "transform": [{"filter": "datum.p === 'C'"}, {"calculate": "datum.t + '|' + datum.g", "as": "k"}],
                  "mark": {"type": "circle", "size": 20, "color": "#000", "opacity": 1},
                  "encoding": {"x": {"field": "k", "type": "nominal"}, "xOffset": {"field": "l", "type": "ordinal", "scale": {"domain": [1, 2, 3, 4, 5, 6, 7, 8, 9], "range": [26.5, 45]}}, "y": {"field": "v", "type": "quantitative"}}
                },
                {
                  "data": {"values": [{}]},
                  "mark": {"type": "rule", "color": "#999", "strokeWidth": 1},
                  "encoding": {"x": {"datum": "PBMC|Control", "bandPosition": 0}}
                },
                {
                  "data": {"values": [{}]},
                  "mark": {"type": "rule", "color": "#222", "strokeWidth": 1.2},
                  "encoding": {"x": {"datum": "BAL|Control", "bandPosition": 0.43}, "x2": {"datum": "BAL|Sarcoidosis", "bandPosition": 0.41}, "y": {"datum": 75.9}}
                },
                {
                  "data": {"values": [{}]},
                  "mark": {"type": "text", "text": "**", "fontSize": 20, "baseline": "alphabetic", "dy": -1},
                  "encoding": {"x": {"datum": "BAL|Control", "bandPosition": 0.93}, "y": {"datum": 75.9}}
                }
              ]
            }
          ]
        },
        {
          "title": {"text": "D"},
          "spacing": 0,
          "bounds": "flush",
          "resolve": {"scale": {"x": "independent", "y": "independent"}},
          "vconcat": [
            {
              "width": 143, "height": 38,
              "data": {"values": [{"t": "BAL"}]},
              "mark": {"type": "text", "fontSize": 19, "dy": 2},
              "encoding": {"x": {"field": "t", "type": "nominal", "axis": null, "scale": {"paddingInner": 0, "paddingOuter": 0}}, "text": {"field": "t"}}
            },
            {
              "width": 143, "height": 233,
              "layer": [
                {
                  "data": {"name": "bars"},
                  "transform": [{"filter": "datum.p === 'D'"}, {"calculate": "datum.t + '|' + datum.g", "as": "k"}],
                  "mark": {"type": "bar", "width": {"band": 0.5}, "fill": "#cdcdcd", "stroke": "#333", "strokeWidth": 1.5},
                  "encoding": {
                    "x": {"field": "k", "type": "nominal", "title": null, "scale": {"domain": ["BAL|Control", "BAL|Sarcoidosis"], "paddingInner": 0, "paddingOuter": 0}, "axis": {"labelExpr": "split(datum.label, '|')[1]"}},
                    "y": {"field": "m", "type": "quantitative", "title": ["Th17.1 cells", "(Erasmus MC cohort)"], "scale": {"domain": [0, 100.7], "nice": false}, "axis": {"values": [0, 10, 20, 30, 40, 50, 60, 70, 80, 90, 100], "format": ".0f", "labelExpr": "datum.value % 20 === 0 ? datum.label : ''", "tickSize": {"condition": {"test": "datum.value % 20 !== 0", "value": 4}, "value": 8}}}
                  }
                },
                {
                  "data": {"name": "bars"},
                  "transform": [{"filter": "datum.p === 'D'"}, {"calculate": "datum.t + '|' + datum.g", "as": "k"}],
                  "mark": {"type": "rule", "color": "#111", "strokeWidth": 1.5},
                  "encoding": {"x": {"field": "k", "type": "nominal"}, "y": {"field": "lo", "type": "quantitative"}, "y2": {"field": "hi"}}
                },
                {
                  "data": {"name": "bars"},
                  "transform": [{"filter": "datum.p === 'D'"}, {"calculate": "datum.t + '|' + datum.g", "as": "k"}],
                  "mark": {"type": "tick", "orient": "horizontal", "size": 23, "thickness": 1.5, "color": "#111"},
                  "encoding": {"x": {"field": "k", "type": "nominal"}, "y": {"field": "lo", "type": "quantitative"}}
                },
                {
                  "data": {"name": "bars"},
                  "transform": [{"filter": "datum.p === 'D'"}, {"calculate": "datum.t + '|' + datum.g", "as": "k"}],
                  "mark": {"type": "tick", "orient": "horizontal", "size": 23, "thickness": 1.5, "color": "#111"},
                  "encoding": {"x": {"field": "k", "type": "nominal"}, "y": {"field": "hi", "type": "quantitative"}}
                },
                {
                  "data": {"name": "pts"},
                  "transform": [{"filter": "datum.p === 'D'"}, {"calculate": "datum.t + '|' + datum.g", "as": "k"}],
                  "mark": {"type": "circle", "size": 10, "color": "#000", "opacity": 1},
                  "encoding": {"x": {"field": "k", "type": "nominal"}, "xOffset": {"field": "l", "type": "ordinal", "scale": {"domain": [1, 2, 3, 4, 5, 6, 7, 8, 9], "range": [26.5, 45]}}, "y": {"field": "v", "type": "quantitative"}}
                },
                {
                  "data": {"values": [{}]},
                  "mark": {"type": "rule", "color": "#222", "strokeWidth": 1.2},
                  "encoding": {"x": {"datum": "BAL|Control", "bandPosition": 0.6}, "x2": {"datum": "BAL|Sarcoidosis", "bandPosition": 0.44}, "y": {"datum": 88.3}}
                },
                {
                  "data": {"values": [{}]},
                  "mark": {"type": "text", "text": "***", "fontSize": 20, "baseline": "alphabetic", "dy": -1},
                  "encoding": {"x": {"datum": "BAL|Sarcoidosis", "bandPosition": 0.025}, "y": {"datum": 88.3}}
                }
              ]
            }
          ]
        }
      ]
    }
  ]
}
